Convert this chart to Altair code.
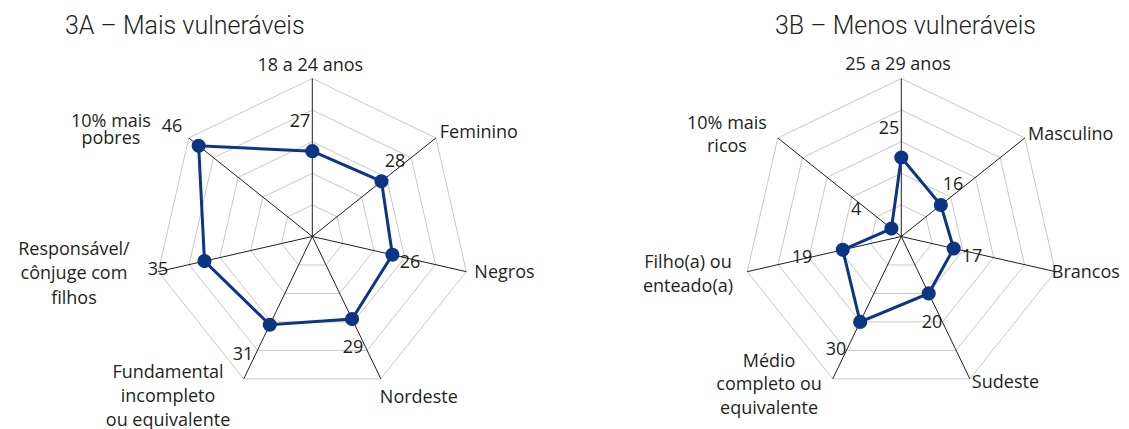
import altair as alt
import pandas as pd

# ---------------- data ----------------
TITLES = ["3A – Mais vulneráveis", "3B – Menos vulneráveis"]
AXES_A = ["18 a 24 anos", "Feminino", "Negros", "Nordeste",
          "Fundamental\nincompleto\nou equivalente",
          "Responsável/\ncônjuge com\nfilhos", "10% mais\npobres"]
VALUES_A = [27, 28, 26, 29, 31, 35, 46]
AXES_B = ["25 a 29 anos", "Masculino", "Brancos", "Sudeste",
          "Médio\ncompleto ou\nequivalente", "Filho(a) ou\nenteado(a)",
          "10% mais\nricos"]
VALUES_B = [25, 16, 17, 20, 30, 19, 4]
GRID_LEVELS = [10, 20, 30, 40, 50]
R_MAX = 50

# ---------------- layout (pixels) ----------------
RADIUS_PX = 158
PANEL_W = [560, 553]
PANEL_H = 413
CENTER = [(304.3, 228.5), (333.3, 228.5)]
TITLE_POS = [(57, 18), (207, 18)]
# axis-label offsets (first line) from the outer vertex: (dx, dy, align, lineHeight)
AXLAB_A = [(-2, -12.5, "center", 24), (4, -5, "left", 24), (8, 1, "left", 24),
           (-1, 19, "left", 24), (-75.7, -6, "center", 24),
           (-84.3, -21.7, "center", 24.5), (-77.8, -16.3, "center", 17)]
AXLAB_B = [(-3.3, -13.5, "center", 24), (3.2, -3, "left", 24), (-3.5, 1.3, "left", 24),
           (2, 4, "left", 24), (-63.7, -16.9, "center", 23.5),
           (-59.3, -8.5, "center", 23.5), (-50.8, -14, "center", 23.5)]
# value-label offsets from the dot
VALLAB_A = [(-12.3, -29.5), (13.5, -19.6), (17.6, 8.2), (1, 29), (-26.8, 30.2),
            (-46.5, 8.9), (-26.6, -18.4)]
VALLAB_B = [(-12.3, -28.5), (12.2, -20), (18.3, 8.6), (3.3, 29.6), (-24.2, 28.1),
            (-40.8, 8.1), (-35.4, -18.6)]

BLUE = "#0c3584"
GRID = "#c8c8c8"
SPOKE = "#1e1e1e"
TEXT = "#231f20"
FONT = "Open Sans"
TITLE_FONT = "Roboto"
FS = 18

N = 7
ANG = "(datum.idx * 2 * PI / 7)"


def rpx(field):
    return f"datum.{field} / {R_MAX} * {RADIUS_PX}"


def panel(i, axes, values, axlab, vallab):
    cx, cy = CENTER[i]
    w = PANEL_W[i]
    xs = alt.Scale(domain=[-cx, w - cx], nice=False, zero=False)
    ys = alt.Scale(domain=[-cy, PANEL_H - cy], nice=False, zero=False, reverse=True)

    def X(f):
        return alt.X(f, type="quantitative", scale=xs, axis=None)

    def Y(f):
        return alt.Y(f, type="quantitative", scale=ys, axis=None)

    grid_df = pd.DataFrame([{"level": lv, "idx": k} for lv in GRID_LEVELS for k in range(N)])
    grid = alt.Chart(grid_df).transform_calculate(
        px=f"{rpx('level')} * sin({ANG})", py=f"-{rpx('level')} * cos({ANG})"
    ).mark_line(interpolate="linear-closed", color=GRID, strokeWidth=1).encode(
        x=X("px"), y=Y("py"), detail="level:N", order="idx:Q"
    )

    spoke_df = pd.DataFrame({"idx": list(range(N)), "level": [R_MAX] * N})
    spokes = alt.Chart(spoke_df).transform_calculate(
        px=f"{rpx('level')} * sin({ANG})", py=f"-{rpx('level')} * cos({ANG})",
        zero="0"
    ).mark_rule(color=SPOKE, strokeWidth=1).encode(
        x=X("zero"), y=Y("zero"), x2="px:Q", y2="py:Q"
    )

    df = pd.DataFrame({
        "idx": list(range(N)), "value": values, "axis": axes,
        "ldx": [a[0] for a in axlab], "ldy": [a[1] for a in axlab],
        "align": [a[2] for a in axlab], "lh": [a[3] for a in axlab],
        "vdx": [v[0] for v in vallab], "vdy": [v[1] for v in vallab],
    })
    base = alt.Chart(df).transform_calculate(
        px=f"{rpx('value')} * sin({ANG})", py=f"-{rpx('value')} * cos({ANG})",
        ox=f"{RADIUS_PX} * sin({ANG}) + datum.ldx",
        oy=f"-{RADIUS_PX} * cos({ANG}) + datum.ldy",
    ).transform_calculate(
        vx="datum.px + datum.vdx", vy="datum.py + datum.vdy"
    )

    line = base.mark_line(interpolate="linear-closed", color=BLUE, strokeWidth=3).encode(
        x=X("px"), y=Y("py"), order="idx:Q"
    )
    dots = base.mark_point(filled=True, color=BLUE, size=200, opacity=1).encode(
        x=X("px"), y=Y("py")
    )
    vlabels = base.mark_text(font=FONT, fontSize=FS, color=TEXT, align="center",
                             baseline="middle").encode(
        x=X("vx"), y=Y("vy"), text="value:Q"
    )

    layers = [grid, spokes, line, dots, vlabels]
    combos = sorted(set((a[2], a[3]) for a in axlab))
    for al, lh in combos:
        layers.append(
            base.transform_filter(f"datum.align == '{al}' && datum.lh == {lh}")
            .mark_text(font=FONT, fontSize=FS, color=TEXT, align=al, baseline="middle",
                       lineBreak="\n", lineHeight=lh)
            .encode(x=X("ox"), y=Y("oy"), text="axis:N")
        )

    tdf = pd.DataFrame({"t": [TITLES[i]]})
    title = alt.Chart(tdf).mark_text(font=TITLE_FONT, fontSize=25, fontWeight=300,
                                     color=TEXT, align="left", baseline="middle").encode(
        x=alt.value(TITLE_POS[i][0]), y=alt.value(TITLE_POS[i][1]), text="t:N"
    )
    layers.append(title)
    return alt.layer(*layers).properties(width=w, height=PANEL_H)


left = panel(0, AXES_A, VALUES_A, AXLAB_A, VALLAB_A)
right = panel(1, AXES_B, VALUES_B, AXLAB_B, VALLAB_B)

chart = alt.hconcat(left, right, spacing=0, bounds="flush").properties(
    padding=0
).configure_view(stroke=None)

chart.save("out.html", embed_options={"renderer": "svg", "actions": False})
